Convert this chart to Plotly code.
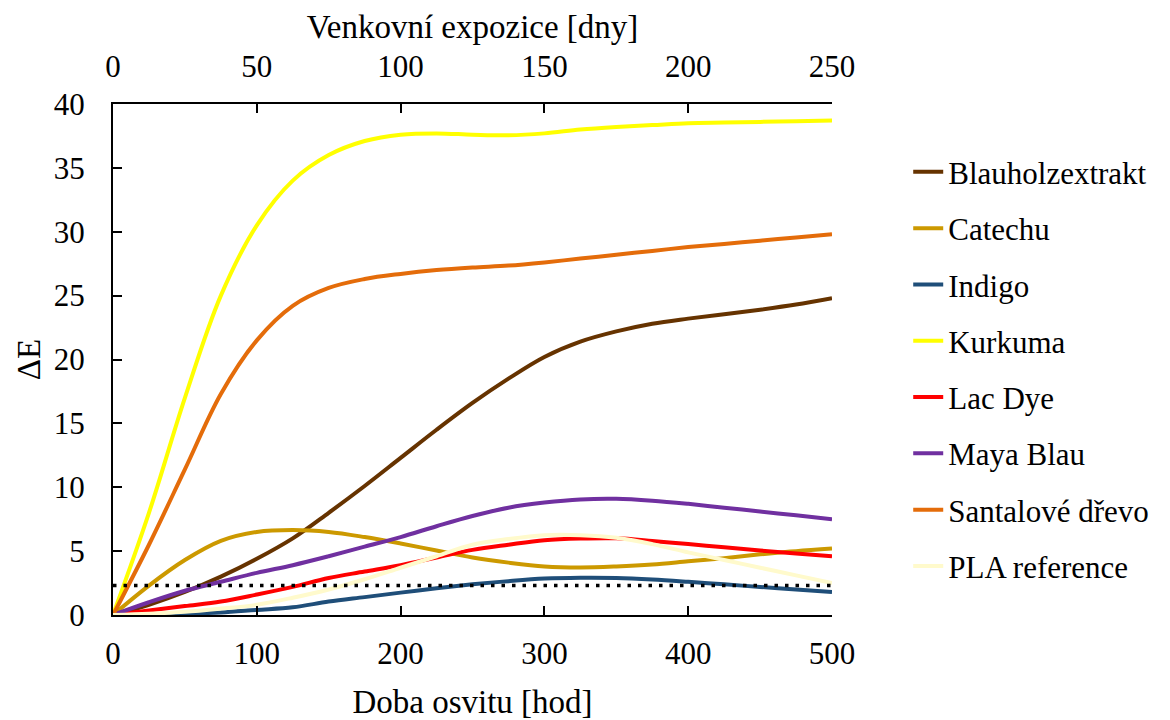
import plotly.graph_objects as go

hours = [0, 25, 50, 75, 100, 125, 150, 175, 200, 225, 250, 275, 300,
         325, 350, 375, 400, 425, 450, 475, 500]

blauholz = [0, 0.8, 1.8, 3.0, 4.4, 6.0, 8.0, 10.1, 12.3, 14.5, 16.6, 18.5, 20.2,
            21.4, 22.2, 22.8, 23.2, 23.55, 23.9, 24.3, 24.8]
catechu = [0, 2.3, 4.3, 5.8, 6.5, 6.65, 6.5, 6.1, 5.6, 5.05, 4.5, 4.1, 3.8,
           3.72, 3.8, 3.95, 4.2, 4.45, 4.75, 5.0, 5.2]
indigo = [0, 0.03, 0.1, 0.2, 0.4, 0.6, 1.05, 1.4, 1.75, 2.1, 2.4, 2.65, 2.85,
          2.92, 2.9, 2.78, 2.6, 2.4, 2.2, 2.0, 1.8]
kurkuma = [0, 8, 17, 25, 30.5, 34, 36, 37.1, 37.6, 37.7, 37.6, 37.55, 37.7,
           38.0, 38.2, 38.35, 38.5, 38.55, 38.6, 38.65, 38.7]
lac_dye = [0, 0.35, 0.7, 1.05, 1.6, 2.2, 2.9, 3.4, 3.9, 4.5, 5.1, 5.5, 5.85,
           5.98, 6.0, 5.8, 5.55, 5.3, 5.05, 4.82, 4.6]
maya_blau = [0, 1.0, 1.9, 2.6, 3.3, 3.9, 4.6, 5.35, 6.1, 6.95, 7.75, 8.4, 8.8,
             9.05, 9.1, 8.95, 8.7, 8.4, 8.1, 7.8, 7.5]
santal = [0, 5.5, 11.4, 17.3, 21.5, 24.2, 25.6, 26.3, 26.7, 27.0, 27.2, 27.35, 27.6,
          27.9, 28.2, 28.5, 28.8, 29.05, 29.3, 29.55, 29.8]
pla_ref = [0, 0.1, 0.25, 0.5, 0.8, 1.35, 2.0, 2.8, 3.7, 4.6, 5.5, 5.95, 6.25,
           6.25, 6.05, 5.55, 4.9, 4.3, 3.7, 3.1, 2.5]

threshold_x = [0, 500]
threshold_y = [2.3, 2.3]

series_names = ["Blauholzextrakt", "Catechu", "Indigo", "Kurkuma", "Lac Dye",
                "Maya Blau", "Santalové dřevo", "PLA reference"]
series_values = [blauholz, catechu, indigo, kurkuma, lac_dye, maya_blau, santal, pla_ref]
series_colors = ["#663300", "#CC9900", "#1F4E79", "#FFFF00", "#FF0000",
                 "#7030A0", "#E46C0A", "#FFFACC"]

FONT = "Liberation Serif, Times New Roman, serif"

fig = go.Figure()
for i, (name, vals, col) in enumerate(zip(series_names, series_values, series_colors)):
    fig.add_trace(go.Scatter(
        x=hours, y=vals, name=name, mode="lines",
        line=dict(color=col, width=4, shape="spline", smoothing=1.0),
        legendgroup=f"g{i}",
    ))

fig.add_trace(go.Scatter(
    x=threshold_x, y=threshold_y, mode="lines", showlegend=False,
    line=dict(color="black", width=3.5, dash="3.5px,7px"),
    hoverinfo="skip",
))

# invisible trace to anchor the top (days) axis
fig.add_trace(go.Scatter(x=[0, 250], y=[None, None], xaxis="x2", yaxis="y",
                         showlegend=False, hoverinfo="skip", mode="lines"))

axis_common = dict(
    showline=True, linecolor="black", linewidth=2,
    ticks="inside", ticklen=9, tickwidth=2, tickcolor="black",
    showgrid=False, zeroline=False, automargin=False,
)

fig.update_layout(
    width=1170, height=720,
    paper_bgcolor="white", plot_bgcolor="white",
    font=dict(family=FONT, size=31, color="black"),
    margin=dict(l=113, r=338, t=104, b=105),
    xaxis=dict(
        range=[0, 500], dtick=100, tick0=0, ticklabelstandoff=10,
        title=dict(text="Doba osvitu [hod]", font=dict(size=33), standoff=21),
        **axis_common,
    ),
    xaxis2=dict(
        range=[0, 250], dtick=50, tick0=0, ticklabelstandoff=13,
        overlaying="x", side="top", anchor="y",
        title=dict(text="Venkovní expozice [dny]", font=dict(size=33), standoff=0),
        **axis_common,
    ),
    yaxis=dict(
        range=[0, 40], dtick=5, tick0=0, ticklabelstandoff=20,
        title=dict(text="ΔE", font=dict(size=33), standoff=3),
        **axis_common,
    ),
    legend=dict(
        x=1.106, xanchor="left", y=0.481, yanchor="middle",
        font=dict(size=31), tracegroupgap=13,
        bgcolor="rgba(0,0,0,0)",
    ),
    showlegend=True,
)

fig.write_html(
    "out.html",
    config={"displayModeBar": False},
    post_script="document.body.style.margin='0';document.body.style.overflow='hidden';",
)
